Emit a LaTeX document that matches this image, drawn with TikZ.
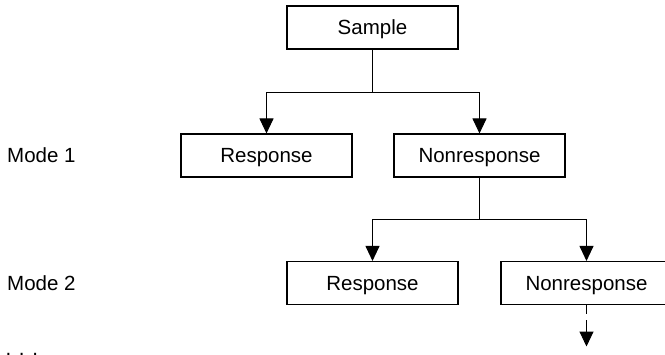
\documentclass[tikz,border=0pt]{standalone}
\usepackage{fontspec}
\setmainfont{Liberation Sans}
\usetikzlibrary{arrows.meta}
\begin{document}
\begin{tikzpicture}[x=1pt,y=-1pt,
  every node/.style={font=\fontsize{20.5}{24}\selectfont, inner sep=0pt},
  box/.style={draw, line width=1.1pt, minimum width=171pt, minimum height=43pt, text height=14.7pt, text depth=0pt},
  lbl/.style={anchor=base west},
  conn/.style={line width=1pt},
  arr/.style={conn, -{Triangle[length=15pt,width=14pt]}}]
\useasboundingbox (0,0) rectangle (665,354);
\node[box] (sample) at (372.5,27.5) {Sample};
\node[box] (resp1) at (266.5,155.5) {Response};
\node[box] (non1) at (479.5,155.5) {Nonresponse};
\node[box] (resp2) at (372.5,283) {Response};
\node[box] (non2) at (586.5,283) {Nonresponse};
\node[lbl] (m1) at (7,162.5) {Mode 1};
\node[lbl] (m2) at (7,290) {Mode 2};
\node[lbl] (dots) at (5.5,355) {. . .};
\coordinate (j1) at (372.5,92);
\coordinate (j2) at (479.5,219);
\coordinate (end) at (586.5,346.5);
\draw[conn] (sample.south) -- (j1);
\draw[arr] (j1) -| (resp1.north);
\draw[arr] (j1) -| (non1.north);
\draw[conn] (non1.south) -- (j2);
\draw[arr] (j2) -| (resp2.north);
\draw[arr] (j2) -| (non2.north);
\draw[arr, dash pattern=on 9pt off 6pt on 60pt] (non2.south) -- (end);
\end{tikzpicture}
\end{document}
